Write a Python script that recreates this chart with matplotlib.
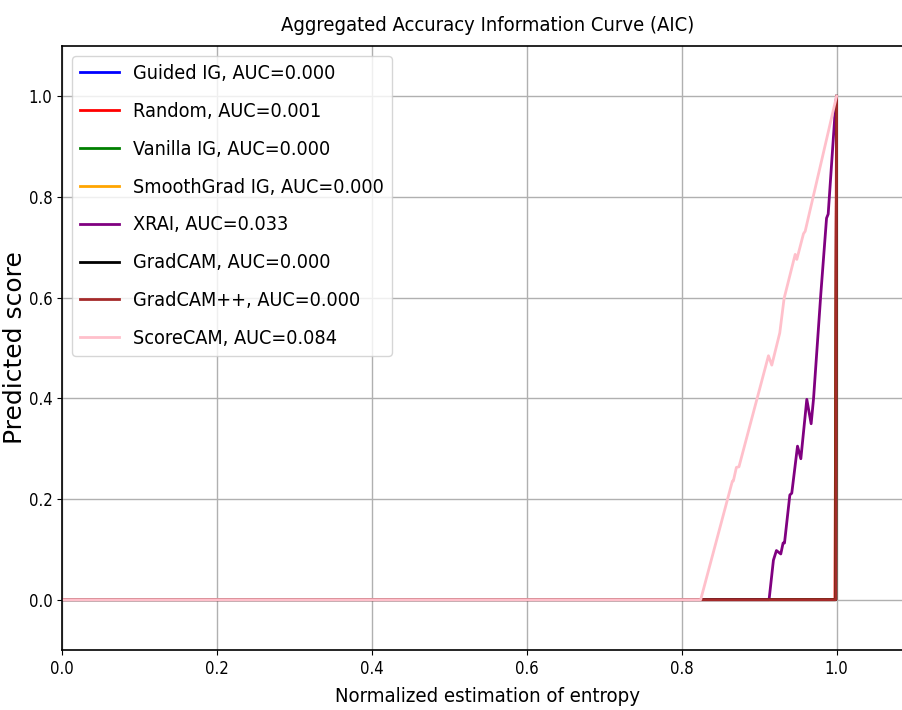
import matplotlib
matplotlib.use("Agg")
import matplotlib.pyplot as plt

plt.rcParams['font.family'] = ['DejaVu Sans']
plt.rcParams['font.stretch'] = 'condensed'

labels = ["Guided IG, AUC=0.000", "Random, AUC=0.001", "Vanilla IG, AUC=0.000",
          "SmoothGrad IG, AUC=0.000", "XRAI, AUC=0.033", "GradCAM, AUC=0.000",
          "GradCAM++, AUC=0.000", "ScoreCAM, AUC=0.084"]
colors = ["blue", "red", "green", "orange", "purple", "black", "brown", "pink"]

step_x = [0.0, 0.999, 1.0]
step_y = [0.0, 0.0, 1.0]
random_x = [0.0, 0.998, 1.0]
random_y = [0.0, 0.0, 1.0]

xrai_x = [0.0, 0.9129, 0.9185, 0.9224, 0.928, 0.931, 0.9328, 0.9397, 0.9422, 0.9496,
          0.9539, 0.9616, 0.9672, 0.9703, 0.9797, 0.9871, 0.9892, 0.9991, 1.0]
xrai_y = [0.0, 0.0, 0.0785, 0.0976, 0.0908, 0.1126, 0.1126, 0.208, 0.2116, 0.305,
          0.280, 0.398, 0.3495, 0.3993, 0.6075, 0.758, 0.766, 0.99, 1.0]

score_x = [0.0, 0.8246, 0.8655, 0.8668, 0.8707, 0.874, 0.9121, 0.9164, 0.9267, 0.9323,
           0.9466, 0.9487, 0.9573, 0.9595, 1.0]
score_y = [0.0, 0.0, 0.2355, 0.236, 0.2628, 0.264, 0.4846, 0.466, 0.530, 0.5986,
           0.686, 0.676, 0.727, 0.732, 1.0]

series_x = [step_x, random_x, step_x, step_x, xrai_x, step_x, step_x, score_x]
series_y = [step_y, random_y, step_y, step_y, xrai_y, step_y, step_y, score_y]

fig = plt.figure(figsize=(9.03, 7.10), dpi=100)
ax = fig.add_axes([62/903, 1 - 650/710, (914-62)/903, (650-46)/710])
for xs, ys, c, l in zip(series_x, series_y, colors, labels):
    ax.plot(xs, ys, color=c, label=l, linewidth=2)

ax.set_xlim(0, 1.1)
ax.set_ylim(-0.1, 1.1)
ax.set_xticks([0.0, 0.2, 0.4, 0.6, 0.8, 1.0])
ax.set_yticks([0.0, 0.2, 0.4, 0.6, 0.8, 1.0])
ax.tick_params(labelsize=12)
for s in ax.spines.values():
    s.set_linewidth(1.2)
ax.grid(True, color="#b0b0b0", linewidth=1)
ax.set_title("Aggregated Accuracy Information Curve (AIC)", fontsize=14.5, pad=11)
ax.set_xlabel("Normalized estimation of entropy", fontsize=14.6, labelpad=7)
ax.set_ylabel("Predicted score", fontsize=18, fontstretch='normal')
ax.yaxis.set_label_coords(-0.041, 0.5)
ax.legend(loc="upper left", fontsize=14.2, labelspacing=0.96, handletextpad=0.7,
          borderaxespad=0.5, borderpad=0.4)
fig.savefig("out.png", dpi=100)
